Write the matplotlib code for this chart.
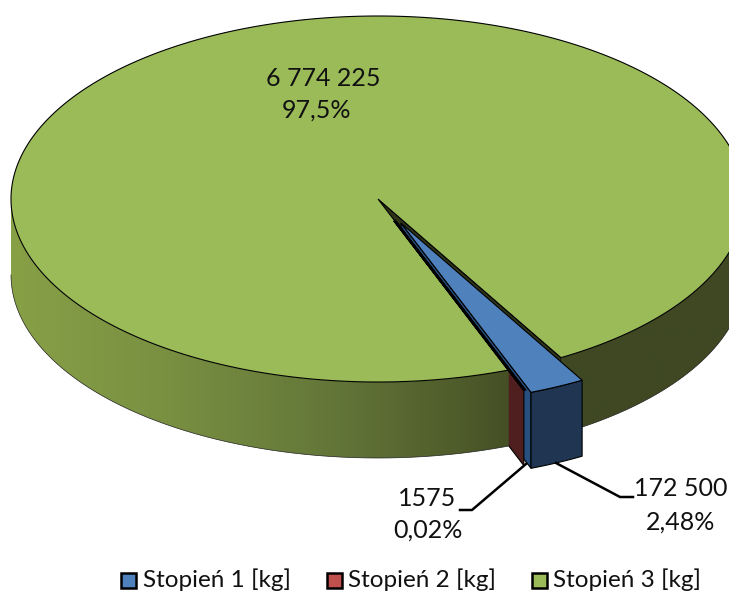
import numpy as np
import matplotlib
matplotlib.use('Agg')
import matplotlib.pyplot as plt
from matplotlib.patches import Polygon, Rectangle
from matplotlib.colors import LinearSegmentedColormap

# data
names = ['Stopień 1 [kg]', 'Stopień 2 [kg]', 'Stopień 3 [kg]']
values = [172500, 1575, 6774225]
value_labels = ['172 500', '1575', '6 774 225']
pct_labels = ['2,48%', '0,02%', '97,5%']
top_colors = ['#4f81bd', '#c0504d', '#9bbb59']

# layout, pixels
cx, cy, rx, ry = 378, 199, 367, 183
depth = 76
start = -60.1
explode = [0.146, 0.125, 0.0]
radius = 0.99
W, H = 729, 592

plt.rcParams['font.family'] = ['Lato', 'DejaVu Sans']

fig = plt.figure(figsize=(W / 100, H / 100), dpi=100)
ax = fig.add_axes([0, 0, 1, 1])

# slice angles go clockwise from start
shares = np.array(values) / sum(values)
spans = shares * 360
edges = start - np.concatenate([[0], np.cumsum(spans)])


def arc(a0, a1, r=1.0, off=(0, 0), n=200):
    t = np.radians(np.linspace(a0, a1, n))
    return np.column_stack([cx + off[0] + r * rx * np.cos(t),
                            cy + off[1] - r * ry * np.sin(t)])


def offset(i):
    mid = np.radians((edges[i] + edges[i + 1]) / 2)
    return explode[i] * rx * np.cos(mid), -explode[i] * ry * np.sin(mid)


def down(pts):
    return pts + [0, depth]


def wall(pts, fc, z):
    ax.add_patch(Polygon(np.vstack([pts, down(pts)[::-1]]), closed=True, fc=fc,
                         ec='black', lw=0.8, zorder=z))


def radial(angle, r, off):
    return np.vstack([[cx + off[0], cy + off[1]], arc(angle, angle, r, off, 1)])


off_b, off_r = offset(0), offset(1)
a_b0, a_b1, a_r1 = edges[0], edges[1], edges[2]

# walls inside the notch, covered later by the green top
wall(radial(a_b0, 1.0, (0, 0)), '#2f3519', 1)
wall(radial(a_b1, radius, off_b), '#27507f', 2)
wall(radial(a_r1, radius, off_r), '#4f1f1f', 3)

# green rim, shaded left to right
rim_left = arc(-180, a_r1, n=300)
rim_right = arc(a_b0, 0, n=200)
shade = LinearSegmentedColormap.from_list('rim', [
    (0.0, '#87a046'), (0.2, '#7a9142'), (0.45, '#627538'),
    (0.62, '#4e5a2a'), (0.72, '#3f4822'), (1.0, '#3f4822')])
for rim in (rim_left, rim_right):
    poly = Polygon(np.vstack([rim, down(rim)[::-1]]), closed=True, fc='none', ec='none', zorder=5)
    ax.add_patch(poly)
    im = ax.imshow(np.linspace(0, 1, 256).reshape(1, -1), cmap=shade, aspect='auto',
                   extent=[cx - rx, cx + rx, cy + ry + depth, cy], zorder=4)
    im.set_clip_path(poly)
    ax.plot(*down(rim).T, color='#222222', lw=0.5, zorder=5)

# green top with the notch
green = np.vstack([[cx, cy], arc(a_b0, a_r1 + 360, n=600)])
ax.add_patch(Polygon(green, closed=True, fc=top_colors[2], ec='black', lw=0.8, zorder=6))

# red top and blue block
red = np.vstack([[cx + off_r[0], cy + off_r[1]], arc(a_b1, a_r1, radius, off_r, 5)])
ax.add_patch(Polygon(red, closed=True, fc=top_colors[1], ec='black', lw=2.0, zorder=7))
blue_arc = arc(a_b0, a_b1, radius, off_b, 40)
wall(blue_arc, '#1f3552', 8)
blue = np.vstack([[cx + off_b[0], cy + off_b[1]], blue_arc])
ax.add_patch(Polygon(blue, closed=True, fc=top_colors[0], ec='black', lw=0.8, zorder=9))

# leader lines
ax.plot([460, 472, 526], [510, 510, 464], color='black', lw=1.8, zorder=10)
ax.plot([556, 620, 633], [463, 497, 497], color='black', lw=1.8, zorder=10)

# data labels
value_pos = [(681, 489), (427, 498), (323, 78)]
pct_pos = [(681, 522), (428, 530), (317, 110)]
for v, p, vp, pp in zip(value_labels, pct_labels, value_pos, pct_pos):
    ax.text(vp[0], vp[1], v, ha='center', va='center', fontsize=18, color='#111111', zorder=11)
    ax.text(pp[0], pp[1], p, ha='center', va='center', fontsize=18, color='#111111', zorder=11)

# legend
marker_x = [121, 327, 532]
text_x = [143, 348, 553]
for n, c, mx, tx in zip(names, top_colors, marker_x, text_x):
    ax.add_patch(Rectangle((mx, 573), 15, 15, fc=c, ec='black', lw=1.8, zorder=11))
    ax.text(tx, 580, n, ha='left', va='center', fontsize=17.5, color='#111111', zorder=11)

ax.set_xlim(0, W)
ax.set_ylim(H, 0)
ax.axis('off')
fig.savefig('out.png', dpi=100)
